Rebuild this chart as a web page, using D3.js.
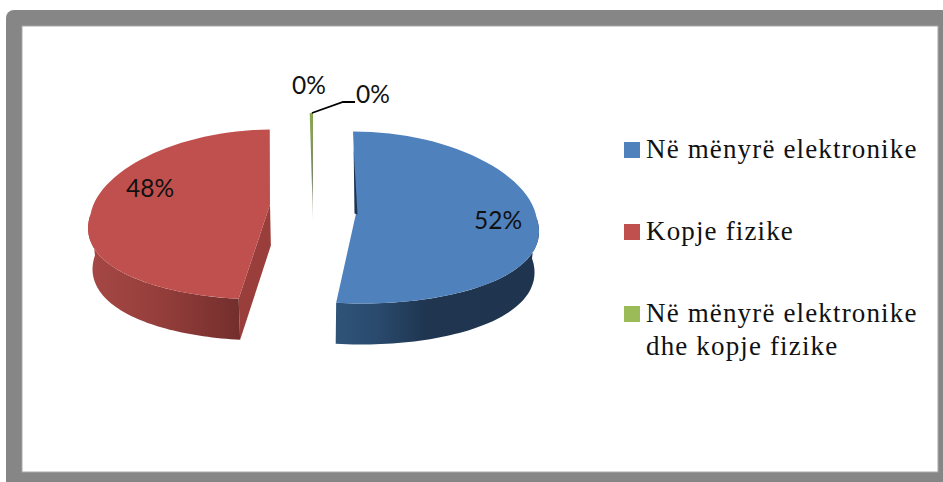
<!DOCTYPE html>
<html><head><meta charset="utf-8">
<script src="https://cdnjs.cloudflare.com/ajax/libs/d3/7.8.5/d3.min.js"></script>
<style>html,body{margin:0;padding:0;background:#fff}svg{display:block}</style>
</head><body><svg id="c" width="943" height="482"></svg>
<script>
const categories = ["Në mënyrë elektronike", "Kopje fizike", "Në mënyrë elektronike dhe kopje fizike", ""];
const values = [52, 47.7, 0.2, 0.1];
const labels = ["52%", "48%", "0%", "0%"];
const legendLines = [["Në mënyrë elektronike"], ["Kopje fizike"], ["Në mënyrë elektronike", "dhe kopje fizike"]];
const colors = ["#4f81bd", "#c0504d", "#9bbb59", "#8a8f80"];

const svg = d3.select("#c");
const defs = svg.append("defs");
function grad(id, x1, x2, stops) {
  const g = defs.append("linearGradient").attr("id", id).attr("gradientUnits", "userSpaceOnUse")
    .attr("x1", x1).attr("x2", x2).attr("y1", 0).attr("y2", 0);
  stops.forEach(s => g.append("stop").attr("offset", s[0]).attr("stop-color", s[1]));
}
grad("gBlue", 335, 539, [[0, "#2f5379"], [0.2, "#2a4a6e"], [0.45, "#1f3550"], [1, "#1e344f"]]);
grad("gRed", 90, 238, [[0, "#a64845"], [0.5, "#933d3a"], [1, "#742f2d"]]);
const gGreen = defs.append("linearGradient").attr("id", "gGreen").attr("x1", 0).attr("x2", 0).attr("y1", 0).attr("y2", 1);
gGreen.append("stop").attr("offset", 0).attr("stop-color", "#8aa850");
gGreen.append("stop").attr("offset", 0.6).attr("stop-color", "#7a8668");
gGreen.append("stop").attr("offset", 1).attr("stop-color", "#d2d5ce");

// frame
svg.append("rect").attr("x", 6).attr("y", 10).attr("width", 950).attr("height", 490).attr("rx", 8).attr("fill", "#868686");
svg.append("rect").attr("x", 22).attr("y", 26).attr("width", 916).attr("height", 446).attr("fill", "#fff").attr("stroke", "#a8a8a8").attr("stroke-width", 1);

// geometry of the 3D pie
const midX = 313, depth = 41;
const geom = [
  {cx: 356, cy: 217.5, rx: 180.5, ry: 86, apexDy: -4},
  {cx: 270, cy: 214.5, rx: 179.5, ry: 85, apexDy: -10},
  {cx: 313, cy: 220, rx: 190, ry: 107, apexDy: 0},
  {cx: 313, cy: 220, rx: 190, ry: 107, apexDy: 0}
];
const arcs = d3.pie().sort(null).value(d => d)(values);
const rim = (g, a) => {
  const x = g.cx + g.rx * Math.sin(a), y = g.cy - g.ry * Math.cos(a);
  const dy = y - g.cy, k = dy < 0 ? 0.0008 : 0.0016;
  return [midX + (x - midX) * (1 + k * dy), y];
};
const apex = g => [g.cx, g.cy + g.apexDy];
const line = d3.line();
const down = p => [midX + (p[0] - midX) * 0.98, p[1] + depth];
const sweep = (g, a0, a1) => d3.range(0, 61).map(i => rim(g, a0 + (a1 - a0) * i / 60));

// red cut face and outer walls
[0, 1].forEach(i => {
  const g = geom[i], a = arcs[i];
  if (i === 1) {
    const s = rim(g, a.startAngle);
    svg.append("path").attr("d", line([apex(g), s, down(s), down(apex(g))]) + "Z").attr("fill", "#9a3e3b");
  }
  const a0 = Math.max(a.startAngle, Math.PI / 2), a1 = Math.min(a.endAngle, 3 * Math.PI / 2);
  const top = sweep(g, a0, a1);
  svg.append("path").attr("d", line(top.concat(top.map(down).reverse())) + "Z")
    .attr("fill", i === 0 ? "url(#gBlue)" : "url(#gRed)");
});
// top faces
[0, 1].forEach(i => {
  const g = geom[i], a = arcs[i];
  svg.append("path").attr("d", line([apex(g)].concat(sweep(g, a.startAngle, a.endAngle))) + "Z").attr("fill", colors[i]);
});
// dark sliver along blue slice's starting edge
{
  const g = geom[0], s = rim(g, arcs[0].startAngle), ap = apex(g);
  const q = [s[0] + (ap[0] - s[0]) * 0.2, s[1] + (ap[1] - s[1]) * 0.2];
  svg.append("path").attr("d", line([q, [ap[0] + 1.5, ap[1] + 1], [ap[0] - 1.5, ap[1]]]) + "Z").attr("fill", "#1d3350");
}
// thin slices
{
  const g = geom[2];
  const pts = [apex(g), rim(g, arcs[2].startAngle), rim(g, arcs[3].endAngle)];
  svg.append("path").attr("d", line(pts) + "Z").attr("fill", "url(#gGreen)");
}
// leader
{
  const g = geom[3], t = rim(g, arcs[3].startAngle);
  svg.append("path").attr("d", line([t, [343, 102], [355, 102]])).attr("fill", "none").attr("stroke", "#000").attr("stroke-width", 1.8);
}
// data labels
const labelPos = [[498, 229], [150, 197], [309, 94], [373, 103]];
svg.selectAll("text.dl").data(labels).join("text").attr("class", "dl")
  .attr("x", (d, i) => labelPos[i][0]).attr("y", (d, i) => labelPos[i][1])
  .attr("text-anchor", "middle").attr("font-family", "Lato, 'Open Sans', sans-serif")
  .attr("font-size", 24.5).attr("fill", "#111").text(d => d);
// legend
const legendY = [158, 240, 322];
legendLines.forEach((ls, i) => {
  svg.append("rect").attr("x", 624).attr("y", legendY[i] - 16).attr("width", 16).attr("height", 16).attr("fill", colors[i]);
  ls.forEach((t, j) => svg.append("text").attr("x", 646).attr("y", legendY[i] + j * 33)
    .attr("font-family", "'Liberation Serif', serif").attr("font-size", 27).attr("letter-spacing", 1.15).attr("fill", "#111").text(t));
});
</script></body></html>
